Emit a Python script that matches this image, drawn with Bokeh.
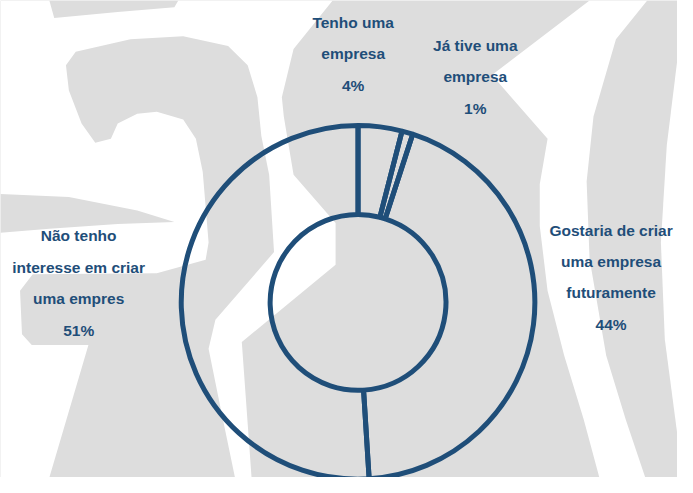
import math
from bokeh.plotting import figure
from bokeh.models import Range1d
from bokeh.core.properties import value
from bokeh.embed import file_html
from bokeh.resources import INLINE

# ---- data ----
categories = ["Tenho uma empresa", "Já tive uma empresa",
              "Gostaria de criar uma empresa futuramente",
              "Não tenho interesse em criar uma empres"]
shares = [4, 1, 44, 51]
label_lines = [
    ["Tenho uma", "empresa", "4%"],
    ["Já tive uma", "empresa", "1%"],
    ["Gostaria de criar", "uma empresa", "futuramente", "44%"],
    ["Não tenho", "interesse em criar", "uma empres", "51%"],
]

# ---- layout / style ----
W, H = 693, 493
BLUE = "#1f4e79"
GREY = "#dddddd"
CX, CY = 366, 312          # donut centre (reference pixels, y down)
R_OUT, R_IN = 181, 90
label_pos = [(361, 55), (486, 79), (625, 286), (80, 292)]
LINE_GAP = 32.5

p = figure(width=677, height=477, output_backend="svg", toolbar_location=None,
           x_range=Range1d(0, W), y_range=Range1d(0, H),
           min_border=0, outline_line_color=None,
           background_fill_color=GREY, border_fill_color=GREY)
p.axis.visible = False
p.grid.visible = False


def poly(pts):
    return [x for x, _ in pts], [H - y for _, y in pts]


# ---- watermark-like background ----
white_shapes = [
    # left white area incl. gap beside the circle
    [(0, 0), (340, 0), (300, 50), (288, 100), (290, 120), (300, 180),
     (343, 230), (343, 273), (247, 353), (257, 493), (0, 493)],
    # right curved white band with notch
    [(603, 0), (503, 77), (560, 143), (552, 190), (552, 233), (560, 300),
     (577, 367), (597, 433), (613, 493), (660, 493), (640, 433), (620, 367),
     (603, 267), (600, 187), (607, 120), (630, 40), (662, 0)],
    # far-right thin band
    [(693, 60), (682, 150), (676, 250), (680, 350), (693, 450)],
]
grey_shapes = [
    # top tapered band
    [(50, 0), (182, 0), (178, 7), (120, 12), (55, 18)],
    # hook + stem + blob + lower part
    [(67, 67), (77, 53), (133, 40), (187, 37), (233, 47), (253, 67),
     (263, 100), (267, 140), (275, 180), (280, 260), (220, 330), (213, 360),
     (225, 420), (240, 493), (50, 493), (90, 356), (32, 356), (22, 345),
     (20, 300), (33, 283), (160, 282), (210, 268), (213, 250), (207, 177),
     (200, 143), (187, 123), (160, 115), (140, 117), (120, 127), (113, 143),
     (97, 147), (83, 127), (70, 93)],
    # left tapered band
    [(0, 200), (70, 203), (140, 217), (178, 229), (120, 231), (50, 236), (0, 240)],
]
for s in white_shapes:
    xs, ys = poly(s)
    p.patch(xs, ys, fill_color="white", line_color=None)
for s in grey_shapes:
    xs, ys = poly(s)
    p.patch(xs, ys, fill_color=GREY, line_color=None)

# ---- donut ----
total = sum(shares)
starts, ends = [], []
cum = 0
for v in shares:
    starts.append(math.pi / 2 - 2 * math.pi * cum / total)
    cum += v
    ends.append(math.pi / 2 - 2 * math.pi * cum / total)

p.annular_wedge(x=[CX] * len(shares), y=[H - CY] * len(shares),
                inner_radius=R_IN, outer_radius=R_OUT,
                start_angle=starts, end_angle=ends, direction="clock",
                fill_alpha=0, line_color=BLUE, line_width=5)

# ---- labels ----
tx, ty, tt = [], [], []
for (lx, ly), lines in zip(label_pos, label_lines):
    n = len(lines)
    for k, line in enumerate(lines):
        tx.append(lx)
        ty.append(H - (ly - (n - 1) / 2 * LINE_GAP + k * LINE_GAP))
        tt.append(line)
p.text(x=tx, y=ty, text=tt, text_align="center", text_baseline="middle",
       text_font=value("Liberation Sans"), text_font_style="bold",
       text_font_size="15.5px", text_color=BLUE)

open("out.html", "w").write(file_html(p, INLINE))
